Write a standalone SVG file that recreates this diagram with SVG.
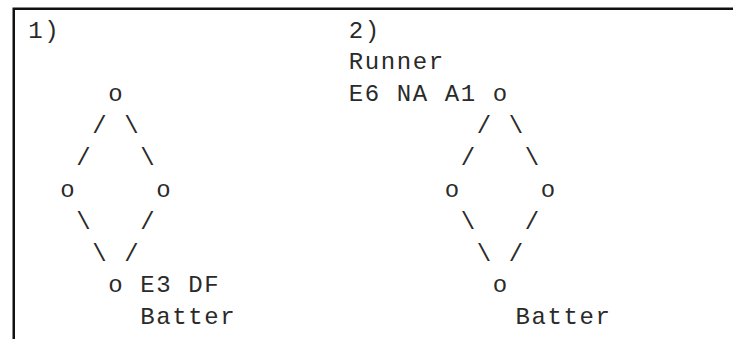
<svg xmlns="http://www.w3.org/2000/svg" width="733" height="339" viewBox="0 0 733 339">
<style>
  text { font-family: "Liberation Mono", "DejaVu Sans Mono", monospace; font-size: 24px; letter-spacing: 1.6px; fill: #2a2a2a; }
  .frame { fill: none; stroke: #111; stroke-width: 2.5; }
</style>
<rect width="733" height="339" fill="#fff"/>
<path class="frame" d="M13.75 339 V8.75 H733"/>

<g id="diagram1">
  <text id="label1" x="28.3" y="37.6">1)</text>
  <g id="d1-top"><text x="108.3" y="101.3">o</text></g>
  <g id="d1-left"><text x="60.3" y="196.9">o</text></g>
  <g id="d1-right"><text x="156.3" y="196.9">o</text></g>
  <g id="d1-bottom"><text x="108.3" y="292.4">o</text><text x="140.3" y="292.4">E3 DF</text><text x="140.3" y="324.3">Batter</text></g>
  <g id="d1-connectors">
    <text x="92.3" y="133.1">/</text><text x="124.3" y="133.1">\</text>
    <text x="76.3" y="165">/</text><text x="140.3" y="165">\</text>
    <text x="76.3" y="228.7">\</text><text x="140.3" y="228.7">/</text>
    <text x="92.3" y="260.6">\</text><text x="124.3" y="260.6">/</text>
  </g>
</g>

<g id="diagram2">
  <text id="label2" x="348.8" y="37.6">2)</text>
  <g id="d2-top"><text x="348.8" y="69.4">Runner</text><text x="348.8" y="101.3">E6 NA A1</text><text x="492.8" y="101.3">o</text></g>
  <g id="d2-left"><text x="444.8" y="196.9">o</text></g>
  <g id="d2-right"><text x="540.8" y="196.9">o</text></g>
  <g id="d2-bottom"><text x="492.8" y="292.4">o</text><text x="515.5" y="324.3">Batter</text></g>
  <g id="d2-connectors">
    <text x="476.8" y="133.1">/</text><text x="508.8" y="133.1">\</text>
    <text x="460.8" y="165">/</text><text x="524.8" y="165">\</text>
    <text x="460.8" y="228.7">\</text><text x="524.8" y="228.7">/</text>
    <text x="476.8" y="260.6">\</text><text x="508.8" y="260.6">/</text>
  </g>
</g>
</svg>
